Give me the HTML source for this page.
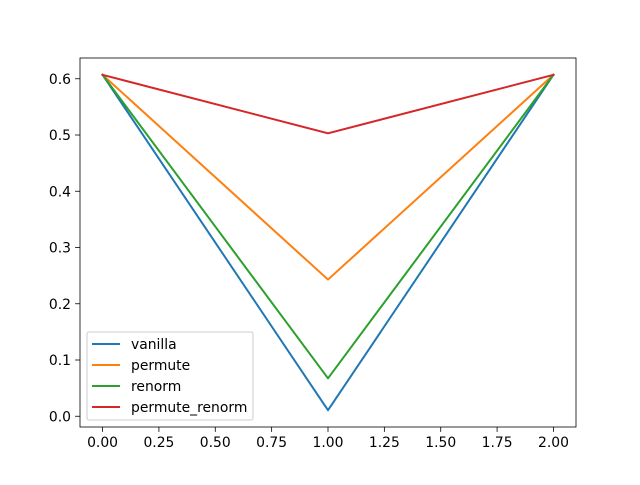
<!DOCTYPE html>
<html><head><meta charset="utf-8"><style>
body{margin:0;background:#fff;font-family:"Liberation Sans","DejaVu Sans",sans-serif;}
svg text{font-family:"DejaVu Sans","Liberation Sans",sans-serif;font-size:13.9px;fill:#000;}
</style></head><body>
<svg id="chart" width="640" height="480"></svg>
<script>
const categories=[0,1,2];
const seriesNames=["vanilla","permute","renorm","permute_renorm"];
const vanilla=[0.607,0.0107,0.607];
const permute=[0.607,0.243,0.607];
const renorm=[0.607,0.0675,0.607];
const permuteRenorm=[0.607,0.503,0.607];
const xTicks=[0,0.25,0.5,0.75,1,1.25,1.5,1.75,2];
const yTicks=[0,0.1,0.2,0.3,0.4,0.5,0.6];
const colors=["#1f77b4","#ff7f0e","#2ca02c","#d62728"];
const L=80,R=576,T=58,B=427,xmin=-0.1,xmax=2.1,ymin=-0.0191,ymax=0.6369;
const sx=v=>L+(v-xmin)/(xmax-xmin)*(R-L);
const sy=v=>B-(v-ymin)/(ymax-ymin)*(B-T);
const svg=document.getElementById('chart');
const NS="http://www.w3.org/2000/svg";
function mk(t,a,p){const e=document.createElementNS(NS,t);for(const k in a)e.setAttribute(k,a[k]);(p||svg).appendChild(e);return e;}
const series=[vanilla,permute,renorm,permuteRenorm];
series.forEach((s,i)=>{
 const p=mk('polyline',{points:s.map((v,j)=>sx(categories[j])+','+sy(v)).join(' '),fill:'none',stroke:colors[i],'stroke-width':2,'stroke-linejoin':'round','stroke-linecap':'square'});
 
 
});
const frame=mk('rect',{x:L,y:T,width:R-L,height:B-T,fill:'none',stroke:'#000','stroke-width':0.8});


xTicks.forEach(v=>{
 const x=sx(v);
 mk('line',{x1:x,x2:x,y1:B,y2:B+4.9,stroke:'#000','stroke-width':0.8});
 const t=mk('text',{x:x,y:B+20,'text-anchor':'middle'});t.textContent=v.toFixed(2);
 
 
});
yTicks.forEach(v=>{
 const y=sy(v);
 mk('line',{x1:L,x2:L-4.9,y1:y,y2:y,stroke:'#000','stroke-width':0.8});
 const t=mk('text',{x:L-9,y:y+5,'text-anchor':'end'});t.textContent=v.toFixed(1);
 
 
});
const lg=mk('g',{});


mk('rect',{x:87,y:332,width:166,height:88,rx:2,fill:'#fff','fill-opacity':0.8,stroke:'#ccc','stroke-width':1},lg);
seriesNames.forEach((n,i)=>{
 const y=344+i*21;
 mk('line',{x1:92,x2:120,y1:y,y2:y,stroke:colors[i],'stroke-width':2},lg);
 const t=mk('text',{x:131,y:y+5},lg);t.textContent=n;
 
 
});
</script>
</body></html>
